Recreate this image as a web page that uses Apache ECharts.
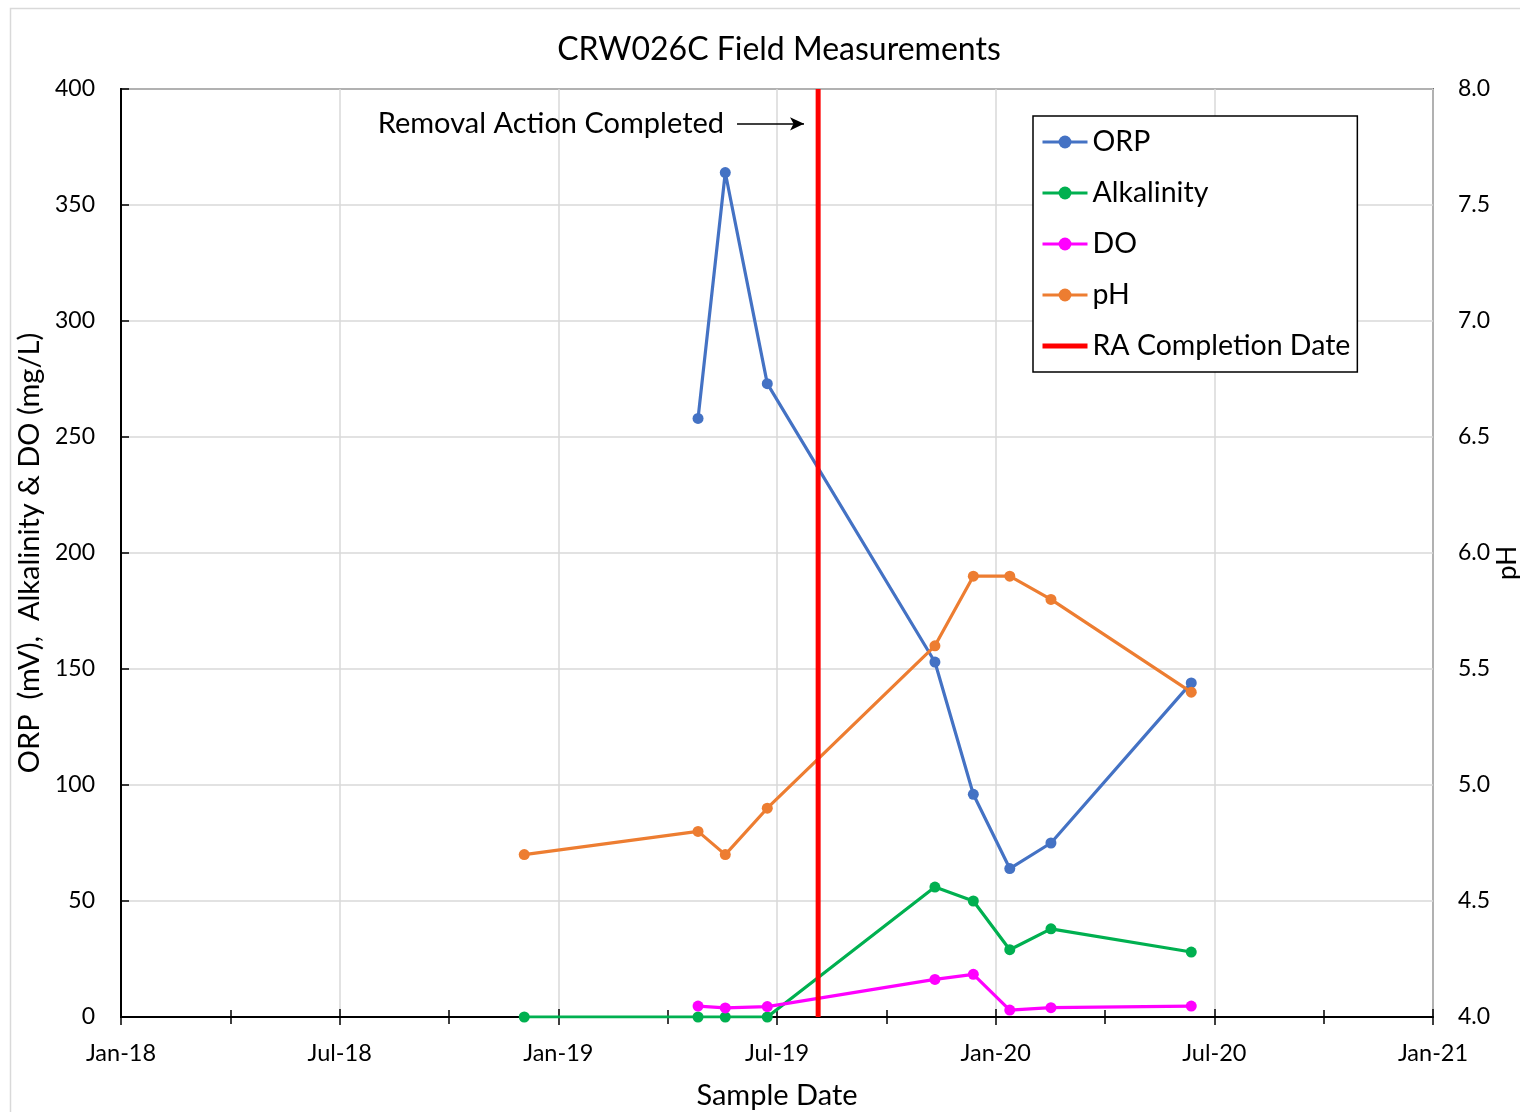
<!DOCTYPE html>
<html>
<head>
<meta charset="utf-8">
<script src="https://cdn.jsdelivr.net/npm/echarts@6/dist/echarts.min.js"></script>
<style>
html,body{margin:0;padding:0;background:#fff;overflow:hidden;}
#chart{width:1520px;height:1112px;}
</style>
</head>
<body>
<div id="chart"></div>
<script>
// ---- Data ----
const sampleDates = ['2018-12-03','2019-04-26','2019-05-19','2019-06-23','2019-11-11','2019-12-13','2020-01-13','2020-02-16','2020-06-12'];
const orp        = [null, 258, 364, 273, 153, 96, 64, 75, 144];
const alkalinity = [0, 0, 0, 0, 56, 50, 29, 38, 28];
const dissolvedO = [null, 4.7, 3.9, 4.5, 16.2, 18.4, 3.0, 4.0, 4.7];
const ph         = [4.7, 4.8, 4.7, 4.9, 5.6, 5.9, 5.9, 5.8, 5.4];
const raDate = '2019-08-05';
const xTickLabels = ['Jan-18','Jul-18','Jan-19','Jul-19','Jan-20','Jul-20','Jan-21'];
const arrowStartDate = '2019-05-29';
const arrowEndDate = '2019-07-24';
const arrowLevel = 385;

// months since Jan-18 (fractional)
function monthIndex(s){
  const [y,m,d] = s.split('-').map(Number);
  const dim = new Date(Date.UTC(y, m, 0)).getUTCDate();
  return (y-2018)*12 + (m-1) + (d-1)/dim;
}
const xs = sampleDates.map(monthIndex);
const pair = arr => xs.map((x,i)=>[x, arr[i]]);
const raX = monthIndex(raDate);

const FONT = 'Lato';
const chart = echarts.init(document.getElementById('chart'), null, {renderer:'canvas'});

const option = {
  backgroundColor:'#fff',
  textStyle:{fontFamily:FONT, color:'#000'},
  animation:false,
  title:{
    text:'CRW026C Field Measurements',
    left:774, top:29, textAlign:'center',
    textStyle:{fontFamily:FONT, fontSize:32, fontWeight:'normal', color:'#000'}
  },
  grid:{left:121, right:87, top:89, bottom:95, show:true, borderColor:'#000', borderWidth:1.5,
        containLabel:false, outerBoundsMode:'none'},
  legend:{
    orient:'vertical', left:1033, top:116,
    backgroundColor:'#fff',
    borderColor:'#000', borderWidth:1.5,
    padding:[11,7,11,8],
    itemWidth:45, itemHeight:16, itemGap:21,
    itemStyle:{borderWidth:0},
    lineStyle:{width:3},
    textStyle:{fontFamily:FONT, fontSize:28.5, lineHeight:30, color:'#000', width:257, overflow:'none'},
    data:['ORP','Alkalinity','DO','pH',{name:'RA Completion Date', icon:'path://M0,0L45,0L45,5L0,5Z'}]
  },
  xAxis:[{
    type:'value', min:0, max:36, interval:6,
    name:'Sample Date', nameLocation:'middle', nameGap:64,
    nameTextStyle:{fontFamily:FONT, fontSize:29, color:'#000'},
    axisLine:{show:true, onZero:false, lineStyle:{color:'#000', width:2}},
    axisTick:{show:true, length:8, lineStyle:{color:'#000', width:1.5}},
    minorTick:{show:true, splitNumber:2, length:7, lineStyle:{color:'#000', width:1.5}},
    axisLabel:{margin:24, fontFamily:FONT, fontSize:23.5, color:'#000', formatter:v=>xTickLabels[Math.round(v/6)]},
    splitLine:{show:true, lineStyle:{color:'#d9d9d9', width:1.5}}
  },{
    type:'value', min:0, max:36, interval:6, position:'bottom',
    axisLine:{show:false},
    axisTick:{show:true, inside:true, length:8, lineStyle:{color:'#000', width:1.5}},
    minorTick:{show:true, splitNumber:2, length:7, lineStyle:{color:'#000', width:1.5}},
    axisLabel:{show:false}, splitLine:{show:false}
  }],
  yAxis:[{
    type:'value', min:0, max:400, interval:50,
    name:'ORP  (mV),  Alkalinity & DO (mg/L)', nameLocation:'middle', nameGap:72, nameRotate:90,
    nameTextStyle:{fontFamily:FONT, fontSize:29, color:'#000'},
    axisLine:{show:true, lineStyle:{color:'#000', width:2}},
    axisTick:{show:false},
    axisLabel:{margin:26, fontFamily:FONT, fontSize:23, color:'#000'},
    splitLine:{show:true, lineStyle:{color:'#d9d9d9', width:1.5}}
  },{
    type:'value', min:4, max:8, interval:0.5, position:'right',
    axisLine:{show:true, lineStyle:{color:'#000', width:2}},
    axisTick:{show:true, length:8, lineStyle:{color:'#000', width:1.5}},
    axisLabel:{margin:25, fontFamily:FONT, fontSize:23, color:'#000', formatter:v=>v.toFixed(1)},
    splitLine:{show:false}
  }],
  series:[
    {name:'ORP', type:'line', data:pair(orp), symbol:'circle', symbolSize:11,
     itemStyle:{color:'#4472C4'}, lineStyle:{color:'#4472C4', width:3.2}},
    {name:'Alkalinity', type:'line', data:pair(alkalinity), symbol:'circle', symbolSize:11,
     itemStyle:{color:'#00B050'}, lineStyle:{color:'#00B050', width:3.2}},
    {name:'DO', type:'line', data:pair(dissolvedO), symbol:'circle', symbolSize:11,
     itemStyle:{color:'#FF00FF'}, lineStyle:{color:'#FF00FF', width:3.2}},
    {name:'pH', type:'line', yAxisIndex:1, data:pair(ph), symbol:'circle', symbolSize:11,
     itemStyle:{color:'#ED7D31'}, lineStyle:{color:'#ED7D31', width:3.2}},
    {name:'RA Completion Date', type:'line', data:[[raX,0],[raX,400]], symbol:'none',
     itemStyle:{color:'#FF0000'}, lineStyle:{color:'#FF0000', width:5},
     markLine:{silent:true, symbol:['none','arrow'], symbolSize:[10,14],
       lineStyle:{color:'#000', width:1.5, type:'solid'}, label:{show:false},
       data:[[{coord:[monthIndex(arrowStartDate), arrowLevel]},{coord:[monthIndex(arrowEndDate), arrowLevel]}]]}}
  ]
};
chart.setOption(option);

const p = chart.convertToPixel({xAxisIndex:0, yAxisIndex:0}, [monthIndex(arrowStartDate), arrowLevel]);
chart.setOption({
  graphic:[
    {type:'rect', shape:{x:10.5, y:8.5, width:1700, height:1300}, style:{fill:null, stroke:'#d9d9d9', lineWidth:1.5}, silent:true, z:-10},
    {type:'text', x:p[0]-13, y:p[1], style:{text:'Removal Action Completed', font:'29px '+FONT, fill:'#000', textAlign:'right', textVerticalAlign:'middle'}},
    {type:'text', x:1508, y:563, rotation:Math.PI/2, style:{text:'pH', font:'26px '+FONT, fill:'#000', textAlign:'center', textVerticalAlign:'middle'}}
  ]
});
</script>
</body>
</html>
